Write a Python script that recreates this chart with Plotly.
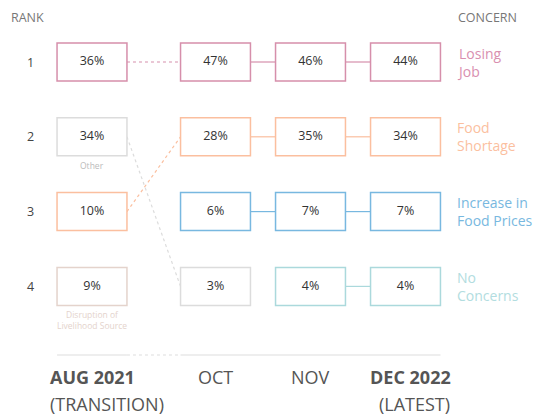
import plotly.graph_objects as go

# ---------------- data ----------------
columns = ["AUG 2021", "OCT", "NOV", "DEC 2022"]
column_sub = ["(TRANSITION)", "", "", "(LATEST)"]
ranks = [1, 2, 3, 4]
concern_aug = ["Losing Job", "Other", "Food Shortage", "Disruption of Livelihood Source"]
concern_oct = ["Losing Job", "Food Shortage", "Increase in Food Prices", "Other"]
concern_nov = ["Losing Job", "Food Shortage", "Increase in Food Prices", "No Concerns"]
concern_dec = ["Losing Job", "Food Shortage", "Increase in Food Prices", "No Concerns"]
values_aug = [36, 34, 10, 9]
values_oct = [47, 28, 6, 3]
values_nov = [46, 35, 7, 4]
values_dec = [44, 34, 7, 4]

concern_labels = ["Losing<br>Job", "Food<br>Shortage", "Increase in<br>Food Prices", "No<br>Concerns"]
concern_label_keys = ["Losing Job", "Food Shortage", "Increase in Food Prices", "No Concerns"]

# ---------------- style ----------------
colors = {
    "Losing Job": "#d68fab",
    "Food Shortage": "#fbbf9f",
    "Increase in Food Prices": "#78b8e0",
    "No Concerns": "#abd9dc",
    "Other": "#dcdcdc",
    "Disruption of Livelihood Source": "#e4d3cc",
}
text_colors = {
    "Losing Job": "#d98fb0",
    "Food Shortage": "#fbbf9f",
    "Increase in Food Prices": "#78b8e0",
    "No Concerns": "#b2dde0",
}
col_pos = [0, 1.3, 2.3, 3.3]     # horizontal layout positions of the columns
BW = 0.368                        # half box width (x units)
BH = 0.254                        # half box height (rank units)
FONT = "Open Sans"

concerns = [concern_aug, concern_oct, concern_nov, concern_dec]
values = [values_aug, values_oct, values_nov, values_dec]

fig = go.Figure()
shapes = []
annotations = []

# connecting lines
for ci in range(len(columns) - 1):
    for ri, c in enumerate(concerns[ci]):
        if c in concerns[ci + 1]:
            rj = concerns[ci + 1].index(c)
            dash = "dot" if ci == 0 else "solid"
            shapes.append(dict(type="line", xref="x", yref="y",
                               x0=col_pos[ci] + BW, y0=ranks[ri],
                               x1=col_pos[ci + 1] - BW, y1=ranks[rj],
                               line=dict(color=colors[c], width=1.2, dash=dash),
                               layer="below"))

# boxes
for ci in range(len(columns)):
    for ri, c in enumerate(concerns[ci]):
        shapes.append(dict(type="rect", xref="x", yref="y",
                           x0=col_pos[ci] - BW, x1=col_pos[ci] + BW,
                           y0=ranks[ri] - BH, y1=ranks[ri] + BH,
                           fillcolor="white", layer="below",
                           line=dict(color=colors[c], width=1.5)))
    fig.add_trace(go.Scatter(
        x=[col_pos[ci]] * len(ranks), y=ranks,
        mode="text", text=[f"{v}%" for v in values[ci]],
        textfont=dict(family=FONT, size=12.5, color="#333333"),
        hoverinfo="skip", showlegend=False))

# small captions under AUG boxes
aug_captions = {"Other": "Other", "Disruption of Livelihood Source": "Disruption of<br>Livelihood Source"}
for ri, c in enumerate(concern_aug):
    if c in aug_captions:
        annotations.append(dict(x=col_pos[0], y=ranks[ri] + BH, xref="x", yref="y",
                                yshift=-2, text=aug_captions[c], showarrow=False,
                                yanchor="top", xanchor="center",
                                font=dict(family=FONT, size=8.5,
                                          color="#bbbbbb" if c == "Other" else colors[c])))

# baseline under the columns
base_y = 4.917
shapes.append(dict(type="line", xref="x", yref="y", x0=col_pos[0] - BW, x1=col_pos[0] + BW,
                   y0=base_y, y1=base_y, line=dict(color="#dddddd", width=1.2)))
shapes.append(dict(type="line", xref="x", yref="y", x0=col_pos[0] + BW, x1=col_pos[1] - BW,
                   y0=base_y, y1=base_y, line=dict(color="#dddddd", width=1.2, dash="dot")))
shapes.append(dict(type="line", xref="x", yref="y", x0=col_pos[1] - BW, x1=col_pos[3] + BW,
                   y0=base_y, y1=base_y, line=dict(color="#dddddd", width=1.2)))

# column labels
for ci, name in enumerate(columns):
    bold = ci in (0, 3)
    annotations.append(dict(x=col_pos[ci], y=base_y, xref="x", yref="y", yshift=-22,
                            xshift=5 if ci == 3 else 0,
                            text=f"<b>{name}</b>" if bold else name, showarrow=False,
                            xanchor="center", yanchor="middle",
                            font=dict(family=FONT, size=18, color="#555555")))
annotations.append(dict(x=col_pos[0] - BW, y=base_y, xref="x", yref="y", xshift=-9, yshift=-49,
                        text=column_sub[0], showarrow=False, xanchor="left", yanchor="middle",
                        font=dict(family=FONT, size=18, color="#555555")))
annotations.append(dict(x=col_pos[3] + BW, y=base_y, xref="x", yref="y", xshift=12, yshift=-49,
                        text=column_sub[3], showarrow=False, xanchor="right", yanchor="middle",
                        font=dict(family=FONT, size=18, color="#555555")))

# rank numbers
for r in ranks:
    annotations.append(dict(x=col_pos[0], y=r, xref="x", yref="y", xshift=-62,
                            text=str(r), showarrow=False, xanchor="center",
                            font=dict(family=FONT, size=12.5, color="#444444")))

# concern labels at right
for key, lab in zip(concern_label_keys, concern_labels):
    r = ranks[concern_dec.index(key)]
    annotations.append(dict(x=col_pos[3] + BW, y=r, xref="x", yref="y", xshift=15,
                            text=lab, showarrow=False, xanchor="left", yanchor="middle",
                            align="left",
                            font=dict(family=FONT, size=14, color=text_colors[key])))

# headers (pixel positions converted to paper fractions)
W, H = 534, 414
annotations.append(dict(x=9 / W, y=1 - 18 / H, xref="paper", yref="paper", text="RANK",
                        showarrow=False, xanchor="left", yanchor="middle",
                        font=dict(family=FONT, size=12.5, color="#777777")))
annotations.append(dict(x=456 / W, y=1 - 18 / H, xref="paper", yref="paper", text="CONCERN",
                        showarrow=False, xanchor="left", yanchor="middle",
                        font=dict(family=FONT, size=12.5, color="#777777")))

fig.update_layout(
    width=W, height=H,
    margin=dict(l=0, r=0, t=0, b=0),
    paper_bgcolor="white", plot_bgcolor="white",
    xaxis=dict(range=[-0.9684, 4.6526], visible=False, fixedrange=True),
    yaxis=dict(range=[5.706, 0.1711], visible=False, fixedrange=True),
    shapes=shapes, annotations=annotations, showlegend=False,
)

fig.write_html("out.html", config={"displayModeBar": False},
               post_script="document.body.style.margin='0';document.body.style.overflow='hidden';")
